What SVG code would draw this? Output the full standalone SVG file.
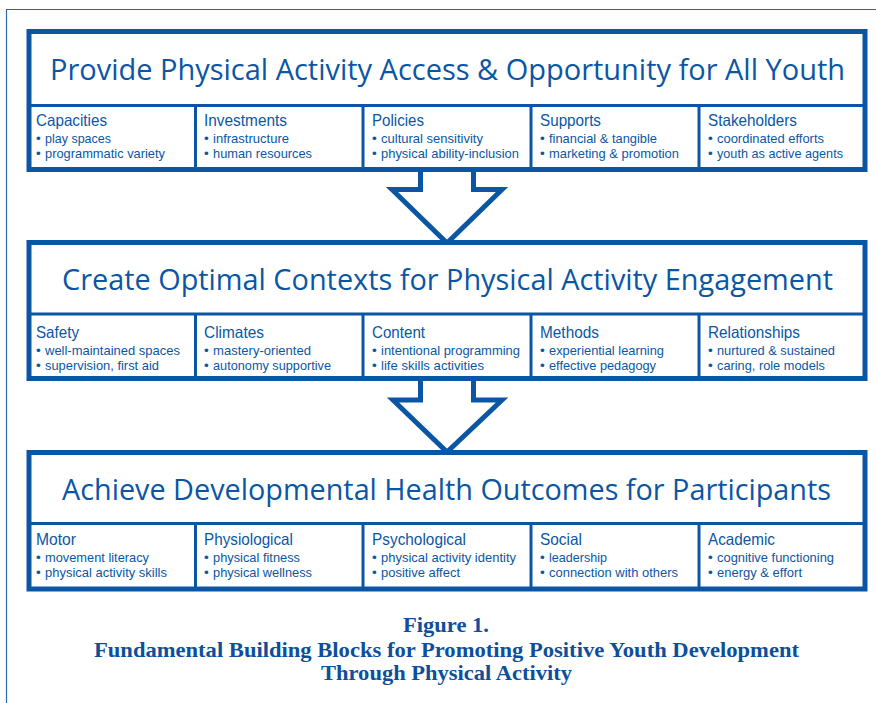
<svg xmlns="http://www.w3.org/2000/svg" width="876" height="703" viewBox="0 0 876 703">
<style>
.frame{fill:none;stroke:#2f67ad;stroke-width:1.2}
.box{fill:#fff;stroke:#0b56a4;stroke-width:5}
.div{stroke:#0b56a4;stroke-width:3}
.arrow{fill:#fff;stroke:#0b56a4;stroke-width:5;stroke-linejoin:miter}
.title{font-family:"Open Sans","Noto Sans",sans-serif;font-size:30px;fill:#0b56a4}
.cell{font-family:"Liberation Sans",Arial,sans-serif;fill:#0b56a4;font-size:13.5px}
.hd{font-size:16.5px}
.cap{font-family:"Liberation Serif","Times New Roman",serif;font-weight:bold;font-size:21px;fill:#0d4f9c;text-anchor:middle}
</style>
<rect width="876" height="703" fill="#fff"/>
<path class="frame" d="M6.5,703 V9.5 H876"/>

<g id="connectors">
<path class="arrow" d="M420.5,170 V189.5 H392 L447,243 L502,189.5 H473.5 V170"/>
<path class="arrow" d="M420.5,380 V400 H393 L447,452 L502,400 H473.5 V380"/>
</g>

<g id="box1">
<rect class="box" x="29" y="31.5" width="836" height="138"/>
<line class="div" x1="29" y1="105.5" x2="865" y2="105.5"/>
<line class="div" x1="195.5" y1="105.5" x2="195.5" y2="169.5"/>
<line class="div" x1="363" y1="105.5" x2="363" y2="169.5"/>
<line class="div" x1="531" y1="105.5" x2="531" y2="169.5"/>
<line class="div" x1="699" y1="105.5" x2="699" y2="169.5"/>
<text class="title" x="50" y="80" textLength="795" lengthAdjust="spacingAndGlyphs">Provide Physical Activity Access &amp; Opportunity for All Youth</text>
<text id="capacities" class="cell"><tspan class="hd" x="36" y="125.5" textLength="71" lengthAdjust="spacingAndGlyphs">Capacities</tspan><tspan x="36" y="142.5">•</tspan><tspan x="45" y="142.5" textLength="66" lengthAdjust="spacingAndGlyphs">play spaces</tspan><tspan x="36" y="157.5">•</tspan><tspan x="45" y="157.5" textLength="120" lengthAdjust="spacingAndGlyphs">programmatic variety</tspan></text>
<text id="investments" class="cell"><tspan class="hd" x="204" y="125.5" textLength="83" lengthAdjust="spacingAndGlyphs">Investments</tspan><tspan x="204" y="142.5">•</tspan><tspan x="213" y="142.5" textLength="76" lengthAdjust="spacingAndGlyphs">infrastructure</tspan><tspan x="204" y="157.5">•</tspan><tspan x="213" y="157.5" textLength="99" lengthAdjust="spacingAndGlyphs">human resources</tspan></text>
<text id="policies" class="cell"><tspan class="hd" x="372" y="125.5" textLength="52" lengthAdjust="spacingAndGlyphs">Policies</tspan><tspan x="372" y="142.5">•</tspan><tspan x="381" y="142.5" textLength="102" lengthAdjust="spacingAndGlyphs">cultural sensitivity</tspan><tspan x="372" y="157.5">•</tspan><tspan x="381" y="157.5" textLength="138" lengthAdjust="spacingAndGlyphs">physical ability-inclusion</tspan></text>
<text id="supports" class="cell"><tspan class="hd" x="540" y="125.5" textLength="61" lengthAdjust="spacingAndGlyphs">Supports</tspan><tspan x="540" y="142.5">•</tspan><tspan x="549" y="142.5" textLength="108" lengthAdjust="spacingAndGlyphs">financial &amp; tangible</tspan><tspan x="540" y="157.5">•</tspan><tspan x="549" y="157.5" textLength="130" lengthAdjust="spacingAndGlyphs">marketing &amp; promotion</tspan></text>
<text id="stakeholders" class="cell"><tspan class="hd" x="708" y="125.5" textLength="89" lengthAdjust="spacingAndGlyphs">Stakeholders</tspan><tspan x="708" y="142.5">•</tspan><tspan x="717" y="142.5" textLength="107" lengthAdjust="spacingAndGlyphs">coordinated efforts</tspan><tspan x="708" y="157.5">•</tspan><tspan x="717" y="157.5" textLength="126" lengthAdjust="spacingAndGlyphs">youth as active agents</tspan></text>
</g>

<g id="box2">
<rect class="box" x="29" y="242.5" width="836" height="136"/>
<line class="div" x1="29" y1="314" x2="865" y2="314"/>
<line class="div" x1="195.5" y1="314" x2="195.5" y2="378.5"/>
<line class="div" x1="363" y1="314" x2="363" y2="378.5"/>
<line class="div" x1="531" y1="314" x2="531" y2="378.5"/>
<line class="div" x1="699" y1="314" x2="699" y2="378.5"/>
<text class="title" x="62" y="290" textLength="771" lengthAdjust="spacingAndGlyphs">Create Optimal Contexts for Physical Activity Engagement</text>
<text id="safety" class="cell"><tspan class="hd" x="36" y="338" textLength="43" lengthAdjust="spacingAndGlyphs">Safety</tspan><tspan x="36" y="355">•</tspan><tspan x="45" y="355" textLength="135" lengthAdjust="spacingAndGlyphs">well-maintained spaces</tspan><tspan x="36" y="370">•</tspan><tspan x="45" y="370" textLength="114" lengthAdjust="spacingAndGlyphs">supervision, first aid</tspan></text>
<text id="climates" class="cell"><tspan class="hd" x="204" y="338" textLength="60" lengthAdjust="spacingAndGlyphs">Climates</tspan><tspan x="204" y="355">•</tspan><tspan x="213" y="355" textLength="98" lengthAdjust="spacingAndGlyphs">mastery-oriented</tspan><tspan x="204" y="370">•</tspan><tspan x="213" y="370" textLength="118" lengthAdjust="spacingAndGlyphs">autonomy supportive</tspan></text>
<text id="content" class="cell"><tspan class="hd" x="372" y="338" textLength="53" lengthAdjust="spacingAndGlyphs">Content</tspan><tspan x="372" y="355">•</tspan><tspan x="381" y="355" textLength="139" lengthAdjust="spacingAndGlyphs">intentional programming</tspan><tspan x="372" y="370">•</tspan><tspan x="381" y="370" textLength="103" lengthAdjust="spacingAndGlyphs">life skills activities</tspan></text>
<text id="methods" class="cell"><tspan class="hd" x="540" y="338" textLength="59" lengthAdjust="spacingAndGlyphs">Methods</tspan><tspan x="540" y="355">•</tspan><tspan x="549" y="355" textLength="115" lengthAdjust="spacingAndGlyphs">experiential learning</tspan><tspan x="540" y="370">•</tspan><tspan x="549" y="370" textLength="107" lengthAdjust="spacingAndGlyphs">effective pedagogy</tspan></text>
<text id="relationships" class="cell"><tspan class="hd" x="708" y="338" textLength="92" lengthAdjust="spacingAndGlyphs">Relationships</tspan><tspan x="708" y="355">•</tspan><tspan x="717" y="355" textLength="118" lengthAdjust="spacingAndGlyphs">nurtured &amp; sustained</tspan><tspan x="708" y="370">•</tspan><tspan x="717" y="370" textLength="108" lengthAdjust="spacingAndGlyphs">caring, role models</tspan></text>
</g>

<g id="box3">
<rect class="box" x="29" y="452.5" width="836" height="136.5"/>
<line class="div" x1="29" y1="523.5" x2="865" y2="523.5"/>
<line class="div" x1="195.5" y1="523.5" x2="195.5" y2="589"/>
<line class="div" x1="363" y1="523.5" x2="363" y2="589"/>
<line class="div" x1="531" y1="523.5" x2="531" y2="589"/>
<line class="div" x1="699" y1="523.5" x2="699" y2="589"/>
<text class="title" x="62" y="500" textLength="769" lengthAdjust="spacingAndGlyphs">Achieve Developmental Health Outcomes for Participants</text>
<text id="motor" class="cell"><tspan class="hd" x="36" y="545" textLength="40" lengthAdjust="spacingAndGlyphs">Motor</tspan><tspan x="36" y="562">•</tspan><tspan x="45" y="562" textLength="104" lengthAdjust="spacingAndGlyphs">movement literacy</tspan><tspan x="36" y="577">•</tspan><tspan x="45" y="577" textLength="122" lengthAdjust="spacingAndGlyphs">physical activity skills</tspan></text>
<text id="physiological" class="cell"><tspan class="hd" x="204" y="545" textLength="89" lengthAdjust="spacingAndGlyphs">Physiological</tspan><tspan x="204" y="562">•</tspan><tspan x="213" y="562" textLength="87" lengthAdjust="spacingAndGlyphs">physical fitness</tspan><tspan x="204" y="577">•</tspan><tspan x="213" y="577" textLength="99" lengthAdjust="spacingAndGlyphs">physical wellness</tspan></text>
<text id="psychological" class="cell"><tspan class="hd" x="372" y="545" textLength="94" lengthAdjust="spacingAndGlyphs">Psychological</tspan><tspan x="372" y="562">•</tspan><tspan x="381" y="562" textLength="135" lengthAdjust="spacingAndGlyphs">physical activity identity</tspan><tspan x="372" y="577">•</tspan><tspan x="381" y="577" textLength="79" lengthAdjust="spacingAndGlyphs">positive affect</tspan></text>
<text id="social" class="cell"><tspan class="hd" x="540" y="545" textLength="42" lengthAdjust="spacingAndGlyphs">Social</tspan><tspan x="540" y="562">•</tspan><tspan x="549" y="562" textLength="58" lengthAdjust="spacingAndGlyphs">leadership</tspan><tspan x="540" y="577">•</tspan><tspan x="549" y="577" textLength="129" lengthAdjust="spacingAndGlyphs">connection with others</tspan></text>
<text id="academic" class="cell"><tspan class="hd" x="708" y="545" textLength="67" lengthAdjust="spacingAndGlyphs">Academic</tspan><tspan x="708" y="562">•</tspan><tspan x="717" y="562" textLength="117" lengthAdjust="spacingAndGlyphs">cognitive functioning</tspan><tspan x="708" y="577">•</tspan><tspan x="717" y="577" textLength="85" lengthAdjust="spacingAndGlyphs">energy &amp; effort</tspan></text>
</g>

<g id="caption">
<text class="cap" x="446" y="632" textLength="86" lengthAdjust="spacingAndGlyphs">Figure 1.</text>
<text class="cap" x="446.5" y="656.5" textLength="705" lengthAdjust="spacingAndGlyphs">Fundamental Building Blocks for Promoting Positive Youth Development</text>
<text class="cap" x="446.5" y="680" textLength="251" lengthAdjust="spacingAndGlyphs">Through Physical Activity</text>
</g>
</svg>
